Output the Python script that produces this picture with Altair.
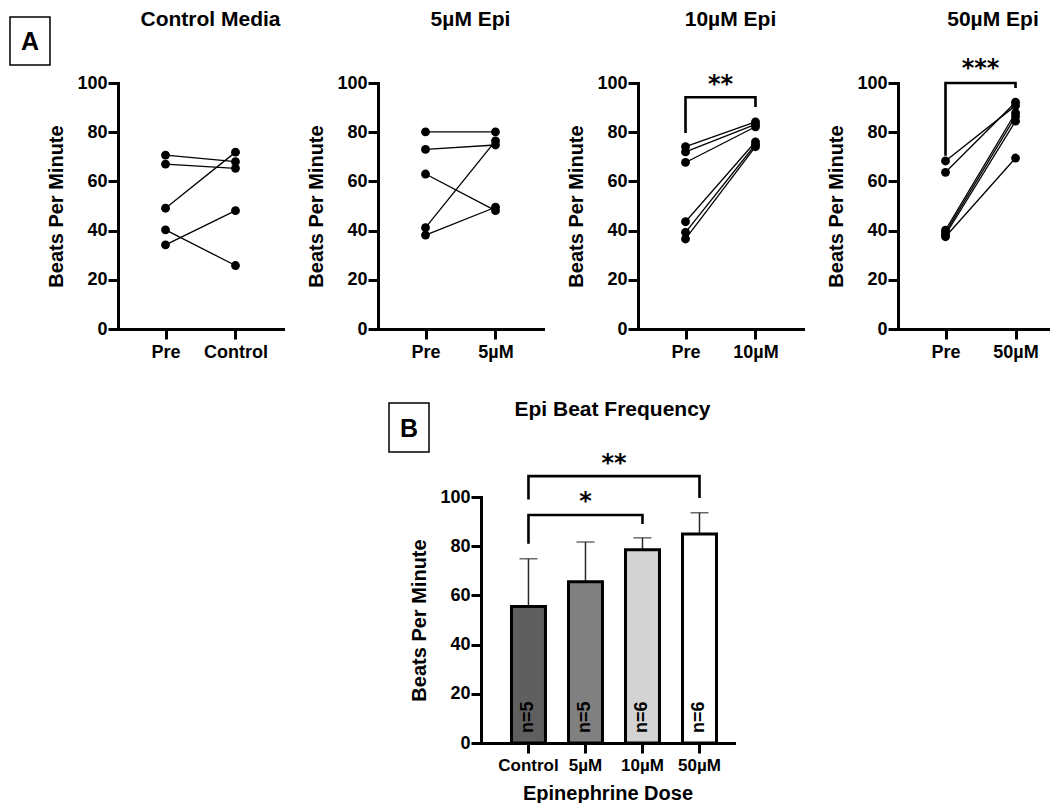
import altair as alt
import pandas as pd

# ---------------- data ----------------
panel_titles = ["Control Media", "5µM Epi", "10µM Epi", "50µM Epi"]
post_labels = ["Control", "5µM", "10µM", "50µM"]
pre_label = "Pre"
panel_letters = ["A", "B"]

control_pre = [70.7, 67.0, 49.1, 40.3, 34.2]
control_post = [68.0, 65.3, 71.9, 25.8, 48.1]
epi5_pre = [80.1, 73.0, 63.0, 41.2, 38.2]
epi5_post = [80.1, 74.8, 48.1, 76.5, 49.5]
epi10_pre = [74.1, 72.0, 67.7, 43.6, 39.3, 36.6]
epi10_post = [84.2, 83.2, 82.2, 76.1, 75.0, 74.1]
epi50_pre = [68.3, 63.7, 40.2, 39.2, 38.3, 37.5]
epi50_post = [90.8, 92.2, 87.9, 86.4, 84.5, 69.5]

# significance brackets (bracket path values) and labels
sig10_y = [79.7, 94.2, 94.2, 90.2]
sig10_star_y = 101.6
sig10_text = "**"
sig50_y = [70.4, 100.0, 100.0, 98.0]
sig50_star_y = 108.0
sig50_text = "***"

# panel B: bar summary
bar_means = [55.5, 65.5, 78.6, 85.0]
bar_upper = [74.9, 81.7, 83.4, 93.6]
bar_n = ["n=5", "n=5", "n=6", "n=6"]
bar_fills = ["#5f5f5f", "#808080", "#d3d3d3", "#ffffff"]
b_title = "Epi Beat Frequency"
b_sig1_x = ["Control", "Control", "10µM", "10µM"]
b_sig1_y = [81.0, 92.7, 92.7, 89.0]
b_sig1_star_y = 100.4
b_sig1_text = "*"
b_sig2_x = ["Control", "Control", "50µM", "50µM"]
b_sig2_y = [99.0, 108.5, 108.5, 99.6]
b_sig2_star_y = 115.9
b_sig2_text = "**"

FONT = "Liberation Sans"
STAR_FONT = "DejaVu Sans"
y_ticks = [0, 20, 40, 60, 80, 100]


def y_axis():
    return alt.Axis(values=y_ticks, labelFontSize=18, labelPadding=1,
                    title="Beats Per Minute", titlePadding=10)


def x_axis(fs, title=None):
    if title is None:
        return alt.Axis(labelAngle=0, labelFontSize=fs, labelPadding=4, title=None)
    return alt.Axis(labelAngle=0, labelFontSize=fs, labelPadding=4, title=title,
                    titlePadding=10)


def text_layer(txt, x, y, size, angle=None):
    kw = dict(font=FONT, fontSize=size, fontWeight="bold", color="black",
              align="center", baseline="middle")
    if angle is not None:
        kw["angle"] = angle
    return alt.Chart(pd.DataFrame({"t": [txt]})).mark_text(**kw).encode(
        x=alt.value(x), y=alt.value(y), text="t:N")


def letter_box(letter, x1, x2, y1, y2):
    box = alt.Chart(pd.DataFrame({"t": [letter]})).mark_rect(
        fill="white", stroke="black", strokeWidth=1.5).encode(
        x=alt.value(x1), x2=alt.value(x2), y=alt.value(y1), y2=alt.value(y2))
    txt = text_layer(letter, (x1 + x2) / 2, (y1 + y2) / 2 + 1, 25)
    return [box, txt]


def paired_panel(i, pre, post, width, scale_kw, title_dx, letter=False,
                 sig_y=None, star_y=None, star_text=None):
    post_label = post_labels[i]
    rows = []
    for k, (a, b) in enumerate(zip(pre, post)):
        rows.append({"subject": k, "phase": pre_label, "bpm": a})
        rows.append({"subject": k, "phase": post_label, "bpm": b})
    df = pd.DataFrame(rows)
    dom = [pre_label, post_label]
    xs = alt.X("phase:N", sort=dom, scale=alt.Scale(domain=dom, **scale_kw), axis=x_axis(18))
    ys = alt.Y("bpm:Q", scale=alt.Scale(domain=[0, 100]), axis=y_axis())
    base = alt.Chart(df)
    lines = base.mark_line(color="black", strokeWidth=1.3).encode(x=xs, y=ys, detail="subject:N")
    pts = base.mark_circle(color="black", size=78, opacity=1).encode(x=xs, y=ys)
    layers = [lines, pts, text_layer(panel_titles[i], width / 2 + title_dx, -63, 21)]
    if letter:
        layers += letter_box(panel_letters[0], -108, -68, -66, -18)
    if sig_y is not None:
        bdf = pd.DataFrame({"phase": [pre_label, pre_label, post_label, post_label],
                            "bpm": sig_y, "o": [0, 1, 2, 3]})
        br = alt.Chart(bdf).mark_line(color="black", strokeWidth=2.6, strokeJoin="miter").encode(
            x=xs, y=ys, order="o:Q")
        sdf = pd.DataFrame({"phase": [pre_label], "bpm": [star_y], "t": [star_text]})
        st = alt.Chart(sdf).mark_text(font=STAR_FONT, fontSize=24, fontWeight="bold",
                                      color="black", dx=35, dy=13, baseline="alphabetic").encode(
            x=xs, y=ys, text="t:N")
        layers += [br, st]
    return alt.layer(*layers).properties(width=width, height=246)


p1 = paired_panel(0, control_pre, control_post, 165, dict(padding=0.679), 10, letter=True)
p2 = paired_panel(1, epi5_pre, epi5_post, 165, dict(padding=0.679), 10)
p3 = paired_panel(2, epi10_pre, epi10_post, 165, dict(padding=0.679), 10,
                  sig_y=sig10_y, star_y=sig10_star_y, star_text=sig10_text)
p4 = paired_panel(3, epi50_pre, epi50_post, 150, dict(padding=0.571, align=0.594), 20,
                  sig_y=sig50_y, star_y=sig50_star_y, star_text=sig50_text)

# ---------------- panel B ----------------
bar_df = pd.DataFrame({"dose": post_labels, "mean": bar_means, "upper": bar_upper,
                       "n": bar_n})
bx = alt.X("dose:N", sort=post_labels,
           scale=alt.Scale(domain=post_labels, paddingInner=0.404, paddingOuter=0.421, align=0.635),
           axis=x_axis(17, "Epinephrine Dose"))
bars = alt.Chart(bar_df).mark_bar(stroke="black", strokeWidth=3).encode(
    x=bx, y=alt.Y("mean:Q", scale=alt.Scale(domain=[0, 100]), axis=y_axis()),
    fill=alt.Color("dose:N", scale=alt.Scale(domain=post_labels, range=bar_fills), legend=None))
err = alt.Chart(bar_df).mark_rule(color="#2a2a2a", strokeWidth=1.5).encode(
    x=bx, y="mean:Q", y2="upper:Q")
cap = alt.Chart(bar_df).mark_tick(color="#2a2a2a", thickness=1.5, size=18).encode(
    x=bx, y="upper:Q")
nlab = alt.Chart(bar_df).mark_text(font=FONT, fontSize=18, fontWeight="bold", color="black",
                                   angle=270, align="center", baseline="middle").encode(
    x=bx, y=alt.datum(10.5), text="n:N")


def b_bracket(xv, yv, star_y, star_text, dx):
    bdf = pd.DataFrame({"dose": xv, "mean": yv, "o": [0, 1, 2, 3]})
    br = alt.Chart(bdf).mark_line(color="black", strokeWidth=2.6, strokeJoin="miter").encode(
        x=bx, y="mean:Q", order="o:Q")
    sdf = pd.DataFrame({"dose": ["5µM"], "mean": [star_y], "t": [star_text]})
    st = alt.Chart(sdf).mark_text(font=STAR_FONT, fontSize=24, fontWeight="bold",
                                  color="black", dx=dx, dy=13, baseline="alphabetic").encode(
        x=bx, y="mean:Q", text="t:N")
    return [br, st]


b_layers = [err, cap, bars, nlab]
b_layers += b_bracket(b_sig1_x, b_sig1_y, b_sig1_star_y, b_sig1_text, 0)
b_layers += b_bracket(b_sig2_x, b_sig2_y, b_sig2_star_y, b_sig2_text, 28.5)
b_layers.append(text_layer(b_title, 253 / 2 + 5, -87, 21))
b_layers += letter_box(panel_letters[1], -92, -52, -94, -45)
pB = alt.layer(*b_layers).properties(width=253, height=246)

spacer = alt.Chart(pd.DataFrame({"s": [0]})).mark_point(opacity=0).properties(width=270, height=10)

top = alt.hconcat(p1, p2, p3, p4, spacing=23)
bottom = alt.hconcat(spacer, pB, spacing=0)
chart = alt.vconcat(top, bottom, spacing=38).properties(
    padding={"left": 9, "top": 9, "right": 2, "bottom": 0}
).configure(font=FONT, background="white").configure_view(
    strokeWidth=0, stroke=None
).configure_axis(
    grid=False, domainColor="#000000", domainWidth=3, domainCap="square", domainOpacity=1,
    tickColor="#000000", tickWidth=3, tickSize=10, tickOpacity=1,
    labelFont=FONT, labelFontWeight="bold", labelColor="#000000",
    titleFont=FONT, titleFontSize=20, titleFontWeight="bold", titleColor="#000000"
)

chart.save("out.html", embed_options={"renderer": "svg", "actions": False})
